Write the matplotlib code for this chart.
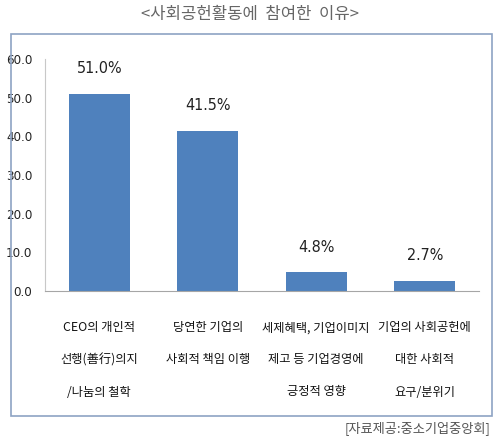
import matplotlib
matplotlib.use("Agg")
import matplotlib.pyplot as plt
from matplotlib.patches import Rectangle

# data
categories = ["CEO의 개인적\n선행(善行)의지\n/나눔의 철학",
              "당연한 기업의\n사회적 책임 이행",
              "세제혜택, 기업이미지\n제고 등 기업경영에\n긍정적 영향",
              "기업의 사회공헌에\n대한 사회적\n요구/분위기"]
values = [51.0, 41.5, 4.8, 2.7]
yticks = [0, 10, 20, 30, 40, 50, 60]
title = "<사회공헌활동에  참여한  이유>"
source = "[자료제공:중소기업중앙회]"

kr = ["Noto Sans CJK KR", "DejaVu Sans"]
narrow = ["DejaVu Sans"]

W, H = 500, 441
fig = plt.figure(figsize=(5, 4.41), dpi=100)
ax = fig.add_axes([45/W, 1-291/H, (479-45)/W, (291-59)/H])

x = range(len(values))
ax.bar(x, values, width=0.565, color="#4f81bd", zorder=2)
for i, v in enumerate(values):
    ax.annotate("%.1f%%" % v, (i, v), xytext=(0, 18), textcoords="offset points",
                ha="center", va="center", fontsize=11.5, color="#222222",
                family=narrow, stretch="condensed")

ax.set_xlim(-0.5, len(values)-0.5)
ax.set_ylim(0, 60)
ax.set_yticks(yticks)
ax.set_yticklabels(["%.1f" % t for t in yticks], family=narrow, fontsize=9.5,
                   color="#222222", stretch="condensed")
ax.set_xticks([])
ax.tick_params(axis="y", length=0, pad=9)
for s in ["top", "right"]:
    ax.spines[s].set_visible(False)
ax.spines["left"].set_color("#c8c8c8")
ax.spines["bottom"].set_color("#a6a6a6")

# category labels, three lines each
for i, lab in enumerate(categories):
    for j, line in enumerate(lab.split("\n")):
        ax.annotate(line, (i, 0), xycoords=("data", "data"),
                    xytext=(0, -(37 + 32*j)*0.72), textcoords="offset points",
                    ha="center", va="center", fontsize=8.8, color="#111111",
                    family=kr, weight="medium")

# outer box
fig.patches.append(Rectangle((11/W, 1-416/H), (492-11)/W, (416-34)/H,
                             transform=fig.transFigure, fill=False,
                             edgecolor="#8da3c4", linewidth=1.2))

fig.text(0.5, 1-14/H, title, ha="center", va="center", fontsize=12,
         color="#666666", family=kr)
fig.text(490/W, 1-428/H, source, ha="right", va="center", fontsize=9.5,
         color="#555555", family=kr)

fig.savefig("out.png", dpi=100)
